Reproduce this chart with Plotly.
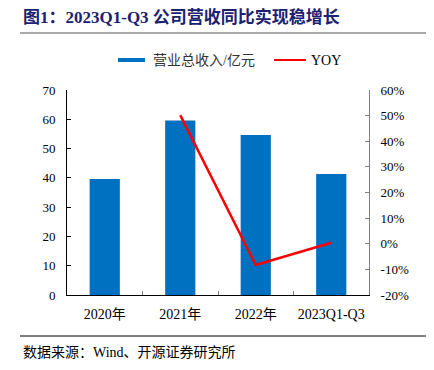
import plotly.graph_objects as go

categories = ["2020年", "2021年", "2022年", "2023Q1-Q3"]
revenue = [39.6, 59.6, 54.6, 41.3]
yoy_cats = ["2021年", "2022年", "2023Q1-Q3"]
yoy = [50.2, -8.3, 0.4]
left_ticks = [0, 10, 20, 30, 40, 50, 60, 70]
right_ticks = [-20, -10, 0, 10, 20, 30, 40, 50, 60]

FONT = "Liberation Serif, Noto Sans CJK SC, serif"

# page offset (browser body margin) and plot box in page pixels
OFF = 8
PL, PR, PT, PB = 67, 369, 90, 295
W, H = 434, 370
L = PL - OFF
T = PT - OFF
R = W - (PR - OFF)
B = H - (PB - OFF)
PW = PR - PL
PH = PB - PT


def px(x):
    return (x - PL) / PW


def py(y):
    return (PB - y) / PH


fig = go.Figure()
fig.add_trace(go.Bar(x=categories, y=revenue, name="营业总收入/亿元",
                     marker=dict(color="#0070C0", line=dict(width=0)), width=0.4))
fig.add_trace(go.Scatter(x=yoy_cats, y=yoy, name="YOY", mode="lines",
                         line=dict(color="#FF0000", width=2.5), yaxis="y2"))

fig.update_layout(
    width=W, height=H,
    margin=dict(l=L, r=R, t=T, b=B),
    plot_bgcolor="white", paper_bgcolor="white",
    font=dict(family=FONT, size=13, color="#000000"),
    showlegend=False,
    xaxis=dict(type="category", categoryorder="array", categoryarray=categories,
               showline=True, linecolor="#000000", linewidth=1, tickangle=0,
               ticks="inside", tickson="boundaries", ticklen=4, tickcolor="#808080",
               ticklabelstandoff=6,
               showgrid=False, tickfont=dict(size=14, family=FONT)),
    yaxis=dict(range=[0, 70], tickvals=left_ticks, showline=True, linecolor="#000000",
               linewidth=1, ticks="inside", ticklen=4, tickcolor="#000000",
               ticklabelstandoff=8,
               showgrid=False, zeroline=False, tickfont=dict(size=13, family=FONT)),
    yaxis2=dict(range=[-20, 60], tickvals=right_ticks,
                ticktext=[f"{v}%" for v in right_ticks], overlaying="y", side="right",
                showline=True, linecolor="#808080", linewidth=1, ticks="inside",
                ticklen=4, tickcolor="#808080", showgrid=False, zeroline=False,
                ticklabelstandoff=8,
                tickfont=dict(size=13, family=FONT)),
)

# title
fig.add_annotation(text="<b>图1：2023Q1-Q3 公司营收同比实现稳增长</b>", xref="paper", yref="paper",
                   x=px(21), y=py(17), xanchor="left", yanchor="middle",
                   showarrow=False, font=dict(size=17, color="#1B2270", family="Liberation Serif, Noto Sans CJK SC"))
fig.add_shape(type="line", xref="paper", yref="paper", x0=px(20), x1=px(440),
              y0=py(33), y1=py(33), line=dict(color="#8C8C8C", width=1.5))

# legend (manual)
fig.add_shape(type="rect", xref="paper", yref="paper", x0=px(118), x1=px(145),
              y0=py(58), y1=py(62), line=dict(width=0), fillcolor="#0070C0")
fig.add_annotation(text="营业总收入/亿元", xref="paper", yref="paper", x=px(151), y=py(60),
                   xanchor="left", yanchor="middle", showarrow=False,
                   font=dict(size=14, color="#333333", family=FONT))
fig.add_shape(type="line", xref="paper", yref="paper", x0=px(274), x1=px(306),
              y0=py(60), y1=py(60), line=dict(color="#FF0000", width=2))
fig.add_annotation(text="YOY", xref="paper", yref="paper", x=px(309), y=py(60),
                   xanchor="left", yanchor="middle", showarrow=False,
                   font=dict(size=14, color="#000000", family=FONT))

# source
fig.add_shape(type="line", xref="paper", yref="paper", x0=px(20), x1=px(440),
              y0=py(336), y1=py(336), line=dict(color="#000000", width=1))
fig.add_annotation(text="数据来源：Wind、开源证券研究所", xref="paper", yref="paper",
                   x=px(21), y=py(352), xanchor="left", yanchor="middle",
                   showarrow=False, font=dict(size=14, color="#000000", family=FONT))

fig.write_html("out.html")
